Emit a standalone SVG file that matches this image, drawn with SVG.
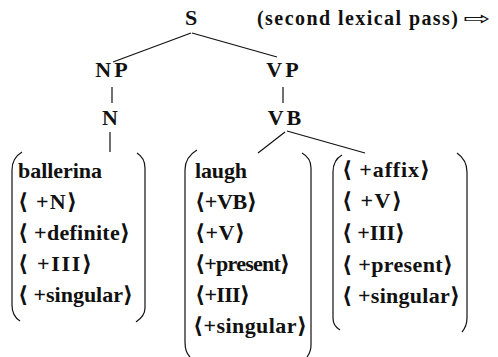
<svg xmlns="http://www.w3.org/2000/svg" width="498" height="357" viewBox="0 0 498 357">
<style>
text{font-family:"Liberation Serif","DejaVu Serif",serif;font-weight:bold;fill:#111}
.lab{font-size:22px;text-anchor:middle}
.sp{letter-spacing:3px}
.feat{font-size:22px}
.ttl{font-size:20px}
.arr{font-family:"DejaVu Sans",sans-serif;font-weight:normal;font-size:22px}
line,path{stroke:#111;stroke-width:1.2;fill:none}
</style>
<rect width="498" height="357" fill="#fff"/>
<g id="connectors">
<line x1="191" y1="33" x2="113" y2="62"/>
<line x1="192" y1="33" x2="277" y2="57"/>
<line x1="112" y1="87" x2="112" y2="103"/>
<line x1="283" y1="87" x2="283" y2="103"/>
<line x1="110" y1="132" x2="110" y2="152"/>
<line x1="285" y1="132" x2="258" y2="153"/>
<line x1="287" y1="131" x2="365" y2="153"/>
</g>
<g id="S"><text class="lab" x="191" y="25">S</text></g>
<g id="title"><text class="ttl" x="257" y="25" textLength="201" lengthAdjust="spacing">(second lexical pass)</text><text class="arr" x="0" y="0" transform="translate(463 25) scale(1.5 0.85)">⇨</text></g>
<g id="NP"><text class="lab sp" x="113" y="77">NP</text></g>
<g id="VP"><text class="lab sp" x="284" y="77">VP</text></g>
<g id="N"><text class="lab" x="110" y="125">N</text></g>
<g id="VB"><text class="lab sp" x="286" y="125">VB</text></g>
<g id="box1">
<path d="M22,152 Q12,158 12,170 L12,305 Q12,316 20,321"/>
<path d="M137,153 Q145,158 145,168 L145,308 Q145,316 136,322"/>
<text class="feat" x="18" y="178" textLength="84" lengthAdjust="spacing">ballerina</text>
<text class="feat" x="18" y="209" textLength="59" lengthAdjust="spacing">⟨ +N⟩</text>
<text class="feat" x="18" y="240" textLength="112" lengthAdjust="spacing">⟨ +definite⟩</text>
<text class="feat" x="18" y="271" textLength="74" lengthAdjust="spacing">⟨ +III⟩</text>
<text class="feat" x="18" y="302" textLength="115" lengthAdjust="spacing">⟨ +singular⟩</text>
</g>
<g id="box2">
<path d="M197,150 Q185,157 185,170 L185,342 Q185,352 190,357"/>
<path d="M302,153 Q311,158 311,168 L311,345 Q311,352 307,357"/>
<text class="feat" x="195" y="178" textLength="52" lengthAdjust="spacing">laugh</text>
<text class="feat" x="195" y="209" textLength="62" lengthAdjust="spacing">⟨+VB⟩</text>
<text class="feat" x="195" y="240" textLength="50" lengthAdjust="spacing">⟨+V⟩</text>
<text class="feat" x="195" y="271" textLength="95" lengthAdjust="spacing">⟨+present⟩</text>
<text class="feat" x="195" y="302" textLength="55" lengthAdjust="spacing">⟨+III⟩</text>
<text class="feat" x="193" y="333" textLength="114" lengthAdjust="spacing">⟨+singular⟩</text>
</g>
<g id="box3">
<path d="M342,155 Q333,160 333,172 L333,318 Q333,326 340,330"/>
<path d="M457,153 Q467,160 467,172 L467,318 Q467,326 462,332"/>
<text class="feat" x="342" y="177" textLength="88" lengthAdjust="spacing">⟨ +affix⟩</text>
<text class="feat" x="342" y="208" textLength="60" lengthAdjust="spacing">⟨ +V⟩</text>
<text class="feat" x="342" y="240" textLength="63" lengthAdjust="spacing">⟨ +III⟩</text>
<text class="feat" x="342" y="272" textLength="111" lengthAdjust="spacing">⟨ +present⟩</text>
<text class="feat" x="342" y="303" textLength="118" lengthAdjust="spacing">⟨ +singular⟩</text>
</g>
</svg>
